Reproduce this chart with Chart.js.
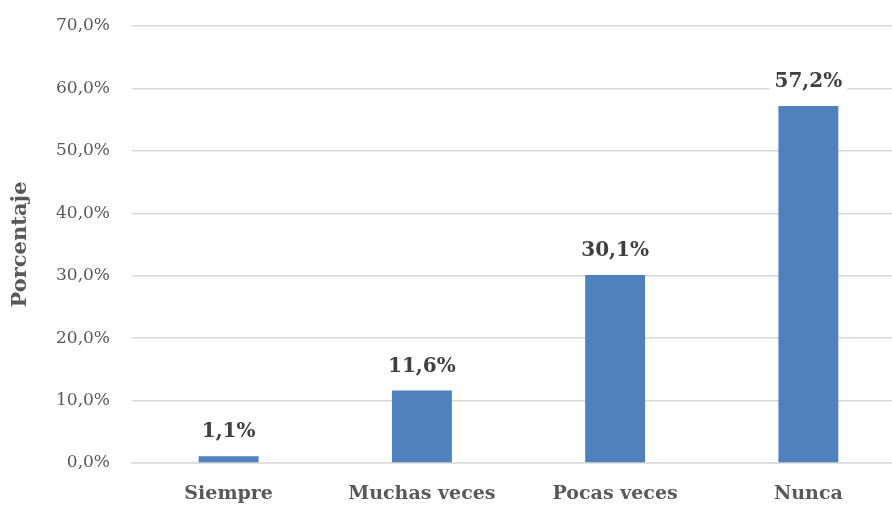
<!DOCTYPE html>
<html>
<head>
<meta charset="utf-8">
<script src="https://cdn.jsdelivr.net/npm/chart.js@4.4.1/dist/chart.umd.min.js"></script>
<style>
  html, body { margin: 0; padding: 0; background: #fff; overflow: hidden; }
  #wrap { width: 892px; height: 506px; overflow: hidden; }
</style>
</head>
<body>
<div id="wrap"><canvas id="myChart" width="905" height="506"></canvas></div>
<script>
'use strict';

const categories = ['Siempre', 'Muchas veces', 'Pocas veces', 'Nunca'];
const percentages = [1.1, 11.6, 30.1, 57.2];
const yTicks = [0, 10, 20, 30, 40, 50, 60, 70];

const FONT = "'DejaVu Serif', serif";

function pct(v, decimals) {
  return v.toFixed(decimals).replace('.', ',') + '%';
}

// value labels above each bar, with a white box so gridlines break behind them
const barLabels = {
  id: 'barLabels',
  afterDatasetsDraw(chart) {
    const ctx = chart.ctx;
    const meta = chart.getDatasetMeta(0);
    ctx.save();
    ctx.font = 'bold 20px ' + FONT;
    ctx.textAlign = 'center';
    ctx.textBaseline = 'middle';
    meta.data.forEach((bar, i) => {
      const text = pct(percentages[i], 1);
      const w = ctx.measureText(text).width;
      const y = bar.y - 24;
      ctx.fillStyle = '#ffffff';
      ctx.fillRect(bar.x - w / 2 - 5, y - 12, w + 10, 24);
      ctx.fillStyle = '#404040';
      ctx.fillText(text, bar.x, y);
    });
    ctx.restore();
  }
};

new Chart(document.querySelector('#myChart'), {
  type: 'bar',
  data: {
    labels: categories,
    datasets: [{
      label: 'Porcentaje',
      data: percentages,
      backgroundColor: '#4f81bd',
      barPercentage: 0.62,
      categoryPercentage: 0.5,
    }],
  },
  options: {
    responsive: false,
    animation: false,
    layout: { padding: { top: 26, left: 0, right: 0, bottom: 0 } },
    plugins: {
      legend: { display: false },
      tooltip: { enabled: false },
    },
    scales: {
      x: {
        grid: { display: false, drawTicks: false },
        border: { display: true, color: '#d9d9d9', width: 1.5 },
        ticks: {
          color: '#595959',
          font: { family: FONT, size: 19, weight: 'bold' },
          padding: 20,
        },
        afterFit(scale) { scale.height = 43; },
      },
      y: {
        min: 0,
        max: 70,
        afterBuildTicks(scale) { scale.ticks = yTicks.map((v) => ({ value: v })); },
        grid: { color: '#d9d9d9', lineWidth: 1.5, drawTicks: false },
        border: { display: false },
        ticks: {
          color: '#595959',
          font: { family: FONT, size: 17 },
          padding: 22,
          callback: (v) => pct(v, 1),
        },
        title: {
          display: true,
          text: 'Porcentaje',
          color: '#595959',
          font: { family: FONT, size: 21, weight: 'bold' },
          padding: { top: 8, bottom: 0 },
        },
        afterFit(scale) {
          scale.width = 132;
          scale.paddingTop = 0;
          scale.paddingBottom = 0;
        },
      },
    },
  },
  plugins: [barLabels],
});
</script>
</body>
</html>
